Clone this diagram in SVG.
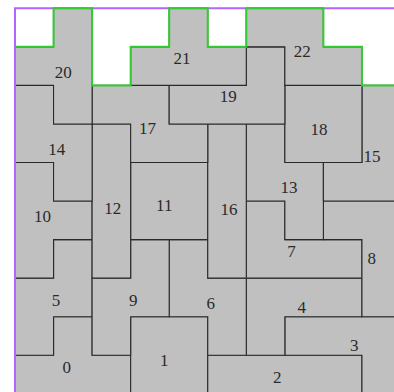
<svg xmlns="http://www.w3.org/2000/svg" width="394" height="392" viewBox="0 0 394 392">
<style>
.p{fill:#c0c0c0;stroke:#2a2a2a;stroke-width:1.1;vector-effect:non-scaling-stroke;stroke-linejoin:miter}
.l{font-family:"Liberation Serif","DejaVu Serif",serif;font-size:17px;fill:#2a2a2a;text-anchor:middle}
.g{fill:none;stroke:#33cc33;stroke-width:2;vector-effect:non-scaling-stroke}
.v{fill:none;stroke:#b266ff;stroke-width:2}
</style>
<rect width="394" height="392" fill="#ffffff"/>
<g id="pieces">
<g id="piece-0"><polygon class="p" transform="matrix(38.55 0 0 38.55 15 8.3)" points="1,8 2,8 2,9 3,9 3,10 0,10 0,9 1,9"/><text class="l" x="66.7" y="373.1">0</text></g>
<g id="piece-1"><polygon class="p" transform="matrix(38.55 0 0 38.55 15 8.3)" points="3,8 5,8 5,10 3,10"/><text class="l" x="164.3" y="365.8">1</text></g>
<g id="piece-2"><polygon class="p" transform="matrix(38.55 0 0 38.55 15 8.3)" points="5,9 9,9 9,10 5,10"/><text class="l" x="277.3" y="382.5">2</text></g>
<g id="piece-3"><polygon class="p" transform="matrix(38.55 0 0 38.55 15 8.3)" points="7,8 10,8 10,10 9,10 9,9 7,9"/><text class="l" x="354.3" y="351.3">3</text></g>
<g id="piece-4"><polygon class="p" transform="matrix(38.55 0 0 38.55 15 8.3)" points="6,7 9,7 9,8 7,8 7,9 6,9"/><text class="l" x="301.7" y="313.1">4</text></g>
<g id="piece-5"><polygon class="p" transform="matrix(38.55 0 0 38.55 15 8.3)" points="1,6 2,6 2,8 1,8 1,9 0,9 0,7 1,7"/><text class="l" x="56" y="305.8">5</text></g>
<g id="piece-6"><polygon class="p" transform="matrix(38.55 0 0 38.55 15 8.3)" points="4,6 5,6 5,7 6,7 6,9 5,9 5,8 4,8"/><text class="l" x="210.7" y="309.3">6</text></g>
<g id="piece-7"><polygon class="p" transform="matrix(38.55 0 0 38.55 15 8.3)" points="6,5 7,5 7,6 9,6 9,7 6,7"/><text class="l" x="291.5" y="257.3">7</text></g>
<g id="piece-8"><polygon class="p" transform="matrix(38.55 0 0 38.55 15 8.3)" points="8,5 10,5 10,8 9,8 9,6 8,6"/><text class="l" x="371.7" y="264.1">8</text></g>
<g id="piece-9"><polygon class="p" transform="matrix(38.55 0 0 38.55 15 8.3)" points="3,6 4,6 4,8 3,8 3,9 2,9 2,7 3,7"/><text class="l" x="133.3" y="305.8">9</text></g>
<g id="piece-10"><polygon class="p" transform="matrix(38.55 0 0 38.55 15 8.3)" points="0,4 1,4 1,5 2,5 2,6 1,6 1,7 0,7"/><text class="l" x="42.5" y="221.8">10</text></g>
<g id="piece-11"><polygon class="p" transform="matrix(38.55 0 0 38.55 15 8.3)" points="3,4 5,4 5,6 3,6"/><text class="l" x="164.3" y="211.3">11</text></g>
<g id="piece-12"><polygon class="p" transform="matrix(38.55 0 0 38.55 15 8.3)" points="2,3 3,3 3,7 2,7"/><text class="l" x="112.7" y="214.3">12</text></g>
<g id="piece-13"><polygon class="p" transform="matrix(38.55 0 0 38.55 15 8.3)" points="6,3 7,3 7,4 8,4 8,6 7,6 7,5 6,5"/><text class="l" x="289" y="193.1">13</text></g>
<g id="piece-14"><polygon class="p" transform="matrix(38.55 0 0 38.55 15 8.3)" points="0,2 1,2 1,3 2,3 2,5 1,5 1,4 0,4"/><text class="l" x="56.7" y="155.1">14</text></g>
<g id="piece-15"><polygon class="p" transform="matrix(38.55 0 0 38.55 15 8.3)" points="9,2 10,2 10,5 8,5 8,4 9,4"/><text class="l" x="372" y="161.5">15</text></g>
<g id="piece-16"><polygon class="p" transform="matrix(38.55 0 0 38.55 15 8.3)" points="5,3 6,3 6,7 5,7"/><text class="l" x="229" y="215.3">16</text></g>
<g id="piece-17"><polygon class="p" transform="matrix(38.55 0 0 38.55 15 8.3)" points="2,2 4,2 4,3 5,3 5,4 3,4 3,3 2,3"/><text class="l" x="147.5" y="133.8">17</text></g>
<g id="piece-18"><polygon class="p" transform="matrix(38.55 0 0 38.55 15 8.3)" points="7,2 9,2 9,4 7,4"/><text class="l" x="319" y="134.8">18</text></g>
<g id="piece-19"><polygon class="p" transform="matrix(38.55 0 0 38.55 15 8.3)" points="6,1 7,1 7,3 4,3 4,2 6,2"/><text class="l" x="228.3" y="102.3">19</text></g>
<g id="piece-20"><polygon class="p" transform="matrix(38.55 0 0 38.55 15 8.3)" points="1,0 2,0 2,3 1,3 1,2 0,2 0,1 1,1"/><text class="l" x="63.3" y="77.5">20</text></g>
<g id="piece-21"><polygon class="p" transform="matrix(38.55 0 0 38.55 15 8.3)" points="4,0 5,0 5,1 6,1 6,2 3,2 3,1 4,1"/><text class="l" x="182" y="63.8">21</text></g>
<g id="piece-22"><polygon class="p" transform="matrix(38.55 0 0 38.55 15 8.3)" points="6,0 8,0 8,1 9,1 9,2 7,2 7,1 6,1"/><text class="l" x="302.3" y="56.5">22</text></g>
</g>
<g id="boundary">
<polyline class="v" points="394,8.3 15,8.3 15,392"/>
<polyline class="g" transform="matrix(38.55 0 0 38.55 15 8.3)" points="0,1 1,1 1,0 2,0 2,2 3,2 3,1 4,1 4,0 5,0 5,1 6,1 6,0 8,0 8,1 9,1 9,2 10.5,2"/>
</g>
</svg>
